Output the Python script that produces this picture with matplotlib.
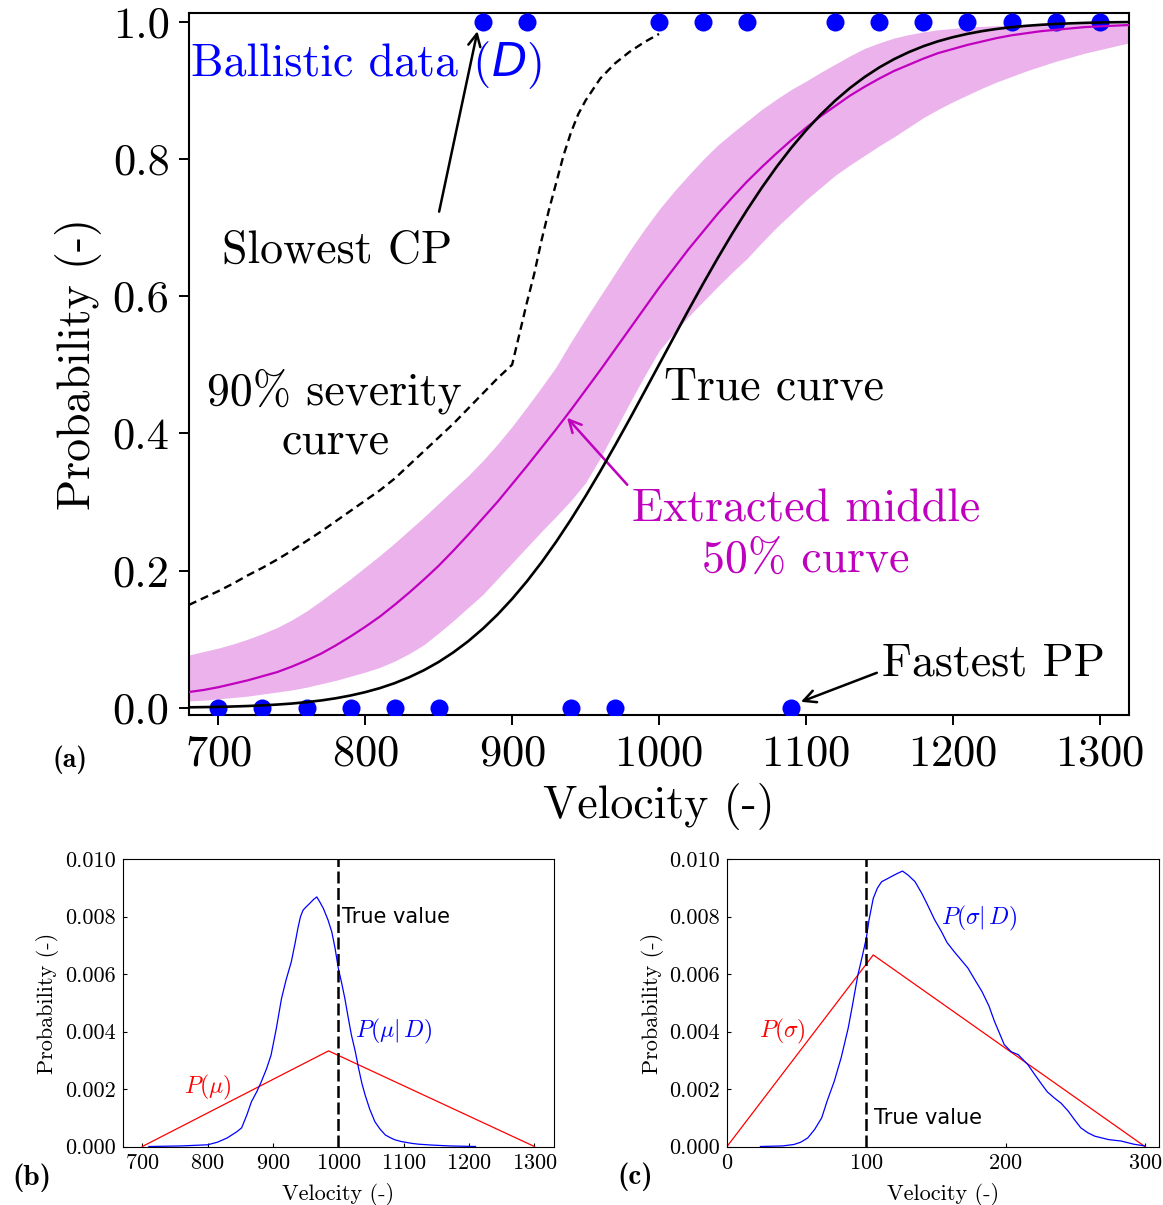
import matplotlib
matplotlib.use("Agg")
import matplotlib.pyplot as plt
from matplotlib.ticker import FormatStrFormatter

plt.rcParams['font.family'] = 'serif'
plt.rcParams['font.serif'] = ['cmr10']
plt.rcParams['mathtext.fontset'] = 'cm'
plt.rcParams['axes.formatter.use_mathtext'] = True
plt.rcParams['axes.unicode_minus'] = False

# ---------------- data: panel (a) ----------------
v_grid = [680, 690, 700, 710, 720, 730, 740, 750, 760, 770, 780, 790, 800, 810, 820,
          830, 840, 850, 860, 870, 880, 890, 900, 910, 920, 930, 940, 950, 960, 970,
          980, 990, 1000, 1010, 1020, 1030, 1040, 1050, 1060, 1070, 1080, 1090, 1100,
          1110, 1120, 1130, 1140, 1150, 1160, 1170, 1180, 1190, 1200, 1210, 1220,
          1230, 1240, 1250, 1260, 1270, 1280, 1290, 1300, 1310, 1320]
true_curve = [0.0007, 0.0010, 0.0013, 0.0019, 0.0026, 0.0035, 0.0047, 0.0062, 0.0082,
              0.0107, 0.0139, 0.0179, 0.0228, 0.0287, 0.0359, 0.0446, 0.0548, 0.0668,
              0.0808, 0.0968, 0.1151, 0.1357, 0.1587, 0.1841, 0.2119, 0.2420, 0.2743,
              0.3085, 0.3446, 0.3821, 0.4207, 0.4602, 0.5000, 0.5398, 0.5793, 0.6179,
              0.6554, 0.6915, 0.7257, 0.7580, 0.7881, 0.8159, 0.8413, 0.8643, 0.8849,
              0.9032, 0.9192, 0.9332, 0.9452, 0.9554, 0.9641, 0.9713, 0.9772, 0.9821,
              0.9861, 0.9893, 0.9918, 0.9938, 0.9953, 0.9965, 0.9974, 0.9981, 0.9987,
              0.9990, 0.9993]
middle_curve = [0.023, 0.026, 0.030, 0.035, 0.040, 0.046, 0.052, 0.060, 0.069, 0.079,
                0.091, 0.104, 0.118, 0.133, 0.150, 0.168, 0.187, 0.207, 0.229, 0.252,
                0.276, 0.300, 0.326, 0.352, 0.379, 0.406, 0.434, 0.463, 0.492, 0.522,
                0.552, 0.582, 0.612, 0.640, 0.668, 0.694, 0.720, 0.744, 0.767, 0.788,
                0.808, 0.827, 0.845, 0.862, 0.877, 0.892, 0.905, 0.917, 0.928, 0.937,
                0.946, 0.954, 0.960, 0.966, 0.971, 0.976, 0.980, 0.983, 0.986, 0.988,
                0.990, 0.992, 0.993, 0.994, 0.995]
band_upper = [0.077, 0.082, 0.087, 0.093, 0.100, 0.108, 0.117, 0.128, 0.141, 0.156,
              0.172, 0.188, 0.205, 0.222, 0.240, 0.259, 0.278, 0.298, 0.318, 0.338,
              0.360, 0.384, 0.410, 0.438, 0.467, 0.497, 0.533, 0.567, 0.600, 0.633,
              0.666, 0.697, 0.726, 0.752, 0.776, 0.799, 0.820, 0.838, 0.855, 0.872,
              0.887, 0.901, 0.913, 0.926, 0.938, 0.950, 0.961, 0.969, 0.976, 0.981,
              0.985, 0.988, 0.990, 0.992, 0.993, 0.994, 0.995, 0.995, 0.996, 0.996,
              0.996, 0.997, 0.997, 0.997, 0.997]
band_lower = [0.010, 0.011, 0.013, 0.015, 0.017, 0.020, 0.023, 0.026, 0.030, 0.035,
              0.040, 0.046, 0.052, 0.059, 0.068, 0.079, 0.092, 0.109, 0.127, 0.146,
              0.165, 0.188, 0.211, 0.234, 0.257, 0.279, 0.302, 0.328, 0.364, 0.404,
              0.444, 0.483, 0.520, 0.546, 0.570, 0.592, 0.614, 0.635, 0.655, 0.678,
              0.700, 0.720, 0.740, 0.758, 0.776, 0.791, 0.805, 0.819, 0.832, 0.846,
              0.860, 0.872, 0.883, 0.893, 0.903, 0.912, 0.920, 0.928, 0.935, 0.942,
              0.948, 0.954, 0.959, 0.964, 0.969]
severity_v = [680, 690, 700, 710, 720, 730, 740, 750, 760, 770, 780, 790, 800, 810,
              820, 830, 840, 850, 860, 870, 880, 890, 900, 905, 910, 915, 920, 925,
              930, 935, 940, 945, 950, 960, 970, 980, 990, 1000]
severity_p = [0.150, 0.160, 0.170, 0.181, 0.193, 0.204, 0.216, 0.229, 0.243, 0.257,
              0.272, 0.287, 0.302, 0.317, 0.334, 0.354, 0.374, 0.394, 0.414, 0.436,
              0.458, 0.480, 0.500, 0.545, 0.590, 0.632, 0.681, 0.725, 0.765, 0.805,
              0.838, 0.865, 0.885, 0.917, 0.939, 0.956, 0.970, 0.982]
cp_v = [880, 910, 1000, 1030, 1060, 1120, 1150, 1180, 1210, 1240, 1270, 1300]
pp_v = [700, 730, 760, 790, 820, 850, 940, 970, 1090]

# ---------------- data: panel (b) ----------------
mu_prior_v = [700, 985, 1300]
mu_prior_p = [0.0, 0.00333, 0.0]
mu_post_v = [710, 760, 800, 815, 830, 845, 852, 860, 867, 875, 882, 890, 897, 905,
             913, 920, 928, 934, 938, 942, 946, 951, 956, 962, 967, 972, 977, 984,
             990, 995, 1000, 1005, 1010, 1015, 1020, 1026, 1031, 1036, 1041, 1048,
             1056, 1064, 1072, 1080, 1087, 1095, 1102, 1112, 1123, 1143, 1170, 1210]
mu_post_p = [0.0, 0.00002, 0.00006, 0.00015, 0.0003, 0.00052, 0.00065, 0.0011,
             0.00156, 0.0019, 0.00225, 0.0027, 0.00318, 0.0041, 0.00515, 0.0058,
             0.00643, 0.0071, 0.00759, 0.0080, 0.00823, 0.00835, 0.00846, 0.0086,
             0.00869, 0.0085, 0.00829, 0.0079, 0.00747, 0.0069, 0.0062, 0.0057,
             0.00515, 0.0045, 0.00388, 0.0033, 0.00272, 0.0022, 0.00179, 0.0013,
             0.00086, 0.0006, 0.0004, 0.0003, 0.00023, 0.00018, 0.00015, 0.00011,
             0.00008, 0.00005, 0.00002, 0.0]
mu_true = 1000

# ---------------- data: panel (c) ----------------
sig_prior_v = [0, 105, 300]
sig_prior_p = [0.0, 0.00667, 0.0]
sig_post_v = [24, 40, 48, 53, 58, 63, 68, 72, 77, 82, 87, 90, 94, 97, 100, 102, 105,
              108, 111, 115, 118, 122, 126, 130, 135, 140, 144, 149, 154, 158, 163,
              168, 173, 178, 183, 188, 192, 196, 199, 204, 209, 213, 216, 221, 226,
              230, 235, 240, 245, 250, 254, 259, 264, 274, 283, 292, 300]
sig_post_p = [0.0, 0.00002, 0.00007, 0.00015, 0.0003, 0.0006, 0.001, 0.0016, 0.00227,
              0.0031, 0.00412, 0.0049, 0.00598, 0.0066, 0.00725, 0.0079, 0.00864,
              0.0090, 0.00922, 0.00932, 0.0094, 0.0095, 0.00959, 0.00945, 0.00922,
              0.0088, 0.00841, 0.0079, 0.00748, 0.0071, 0.00679, 0.0065, 0.00621,
              0.0058, 0.0054, 0.0049, 0.00436, 0.0039, 0.00355, 0.0033, 0.0032,
              0.0030, 0.00285, 0.0025, 0.00216, 0.0019, 0.00169, 0.0015, 0.00123,
              0.0009, 0.00065, 0.00048, 0.00036, 0.00024, 0.00019, 0.00008, 0.00002]
sig_true = 100

W, H = 1163, 1205
fig = plt.figure(figsize=(W / 100, H / 100), dpi=100)

# ================= panel (a) =================
ax = fig.add_axes([189 / W, 1 - 715 / H, 940 / W, 702 / H])
ax.fill_between(v_grid, band_lower, band_upper, color='m', alpha=0.3, lw=0, zorder=1)
ax.plot(cp_v, [1.0] * len(cp_v), 'o', color='b', ms=13, mec='none', zorder=3)
ax.plot(pp_v, [0.0] * len(pp_v), 'o', color='b', ms=13, mec='none', zorder=3)
ax.plot(v_grid, middle_curve, color='m', lw=1.6, zorder=4)
ax.plot(v_grid, true_curve, color='k', lw=1.9, zorder=5)
ax.plot(severity_v, severity_p, color='k', lw=1.7, ls=(0, (3.4, 2.1)), zorder=5)

ax.set_xlim(680, 1320)
ax.set_ylim(-0.0105, 1.0125)
ax.set_xticks([700, 800, 900, 1000, 1100, 1200, 1300])
ax.set_yticks([0.0, 0.2, 0.4, 0.6, 0.8, 1.0])
ax.yaxis.set_major_formatter(FormatStrFormatter('%.1f'))
ax.tick_params(direction='out', length=7, width=1.4, labelsize=32, pad=7)
for s in ax.spines.values():
    s.set_linewidth(1.5)
ax.set_xlabel('Velocity (-)', fontsize=33, labelpad=6)
ax.set_ylabel('Probability (-)', fontsize=33, labelpad=8)

fs = 33
t1 = ax.text(681.6, 0.920, 'Ballistic data (', color='b', fontsize=fs,
             ha='left', va='baseline')
t2 = ax.annotate('D', xy=(1, 0.920), xycoords=(t1, 'data'), color='b',
                 fontsize=fs, family='DejaVu Sans', style='italic',
                 ha='left', va='baseline')
ax.annotate(')', xy=(1, 0.920), xycoords=(t2, 'data'), color='b', fontsize=fs,
            ha='left', va='baseline')

ax.text(780.6, 0.649, 'Slowest CP', fontsize=fs, ha='center', va='baseline')
ax.annotate('', xy=(876.4, 0.986), xytext=(850.3, 0.723),
            arrowprops=dict(arrowstyle='->', color='k', lw=1.8, mutation_scale=22,
                            shrinkA=0, shrinkB=0))
ax.text(779.0, 0.4417, '90% severity', fontsize=fs, ha='center', va='baseline')
ax.text(780.0, 0.370, 'curve', fontsize=fs, ha='center', va='baseline')
ax.text(1078.2, 0.449, 'True curve', fontsize=fs, ha='center', va='baseline')
ax.text(1100.3, 0.271, 'Extracted middle', fontsize=fs, color='m',
        ha='center', va='baseline')
ax.text(1100.0, 0.198, '50% curve', fontsize=fs, color='m',
        ha='center', va='baseline')
ax.annotate('', xy=(937.4, 0.4227), xytext=(978.4, 0.325),
            arrowprops=dict(arrowstyle='->', color='m', lw=1.8, mutation_scale=22,
                            shrinkA=0, shrinkB=0))
ax.text(1227.9, 0.047, 'Fastest PP', fontsize=fs, ha='center', va='baseline')
ax.annotate('', xy=(1096.6, 0.0087), xytext=(1148.3, 0.051),
            arrowprops=dict(arrowstyle='->', color='k', lw=1.8, mutation_scale=22,
                            shrinkA=0, shrinkB=0))

fig.text(70 / W, 1 - 760 / H, '(a)', family='cmb10', fontsize=20,
         ha='center', va='center')

# ================= panel (b) =================
bb = 1 - 1146.5 / H
bh = 287.2 / H
axb = fig.add_axes([122.7 / W, bb, 431.3 / W, bh])
axb.plot(mu_prior_v, mu_prior_p, color='r', lw=0.9)
axb.plot(mu_post_v, mu_post_p, color='b', lw=0.9)
axb.axvline(mu_true, color='k', lw=1.8, ls=(0, (4.8, 1.8)))
axb.set_xlim(670, 1330)
axb.set_ylim(0, 0.01)
axb.set_xticks([700, 800, 900, 1000, 1100, 1200, 1300])
axb.set_yticks([0, 0.002, 0.004, 0.006, 0.008, 0.010])
axb.yaxis.set_major_formatter(FormatStrFormatter('%.3f'))
axb.tick_params(direction='in', length=3, width=0.8, labelsize=16, pad=5)
for s in axb.spines.values():
    s.set_linewidth(0.8)
axb.set_xlabel('Velocity (-)', fontsize=16, labelpad=7)
axb.set_ylabel('Probability (-)', fontsize=16, labelpad=4)
axb.text(1006, 0.0080, 'True value', family='DejaVu Sans', fontsize=15,
         ha='left', va='center')
axb.text(1025.7, 0.0040, r'$P(\mu|\,D)$', color='b', fontsize=17,
         ha='left', va='center')
axb.text(763.7, 0.00205, r'$P(\mu)$', color='r', fontsize=17,
         ha='left', va='center')
fig.text(31.6 / W, 1 - 1178 / H, '(b)', family='cmb10', fontsize=21,
         ha='center', va='center')

# ================= panel (c) =================
axc = fig.add_axes([727 / W, bb, 431.8 / W, bh])
axc.plot(sig_prior_v, sig_prior_p, color='r', lw=0.9)
axc.plot(sig_post_v, sig_post_p, color='b', lw=0.9)
axc.axvline(sig_true, color='k', lw=1.8, ls=(0, (4.8, 1.8)))
axc.set_xlim(0, 310)
axc.set_ylim(0, 0.01)
axc.set_xticks([0, 100, 200, 300])
axc.set_yticks([0, 0.002, 0.004, 0.006, 0.008, 0.010])
axc.yaxis.set_major_formatter(FormatStrFormatter('%.3f'))
axc.tick_params(direction='in', length=3, width=0.8, labelsize=16, pad=5)
for s in axc.spines.values():
    s.set_linewidth(0.8)
axc.set_xlabel('Velocity (-)', fontsize=16, labelpad=7)
axc.set_ylabel('Probability (-)', fontsize=16, labelpad=4)
axc.text(105.5, 0.0010, 'True value', family='DejaVu Sans', fontsize=15,
         ha='left', va='center')
axc.text(153.8, 0.00795, r'$P(\sigma|\,D)$', color='b', fontsize=17,
         ha='left', va='center')
axc.text(22.8, 0.0040, r'$P(\sigma)$', color='r', fontsize=17,
         ha='left', va='center')
fig.text(635 / W, 1 - 1177 / H, '(c)', family='cmb10', fontsize=21,
         ha='center', va='center')

fig.savefig('out.png', dpi=100)
